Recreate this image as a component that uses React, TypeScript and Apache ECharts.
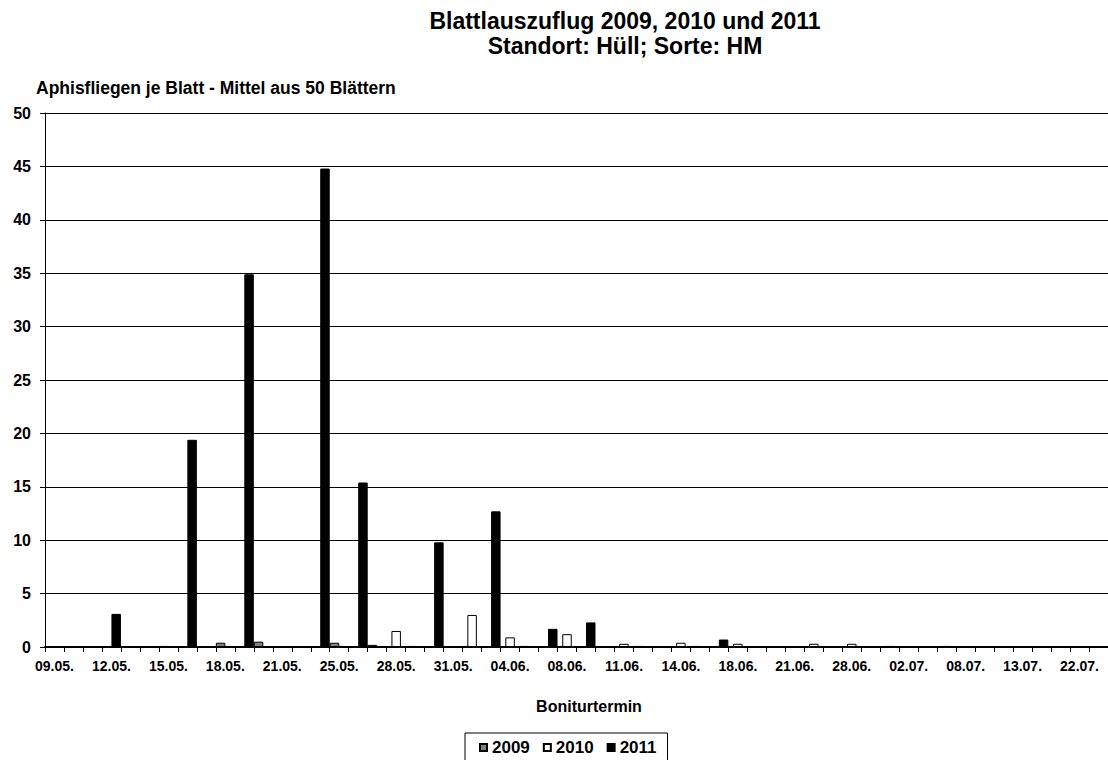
import React, { useEffect, useRef } from "react";
import * as echarts from "echarts";

const categories = [
  "09.05.", "10.05.", "11.05.", "12.05.", "13.05.", "14.05.", "15.05.", "16.05.", "17.05.", "18.05.",
  "19.05.", "20.05.", "21.05.", "23.05.", "24.05.", "25.05.", "26.05.", "27.05.", "28.05.", "29.05.",
  "30.05.", "31.05.", "01.06.", "02.06.", "04.06.", "05.06.", "06.06.", "08.06.", "09.06.", "10.06.",
  "11.06.", "12.06.", "13.06.", "14.06.", "15.06.", "16.06.", "18.06.", "19.06.", "20.06.", "21.06.",
  "23.06.", "25.06.", "28.06.", "30.06.", "01.07.", "02.07.", "04.07.", "06.07.", "08.07.", "10.07.",
  "11.07.", "13.07.", "16.07.", "19.07.", "22.07.", "25.07.",
];

const v2009 = [
  null, null, null, null, null, null, 0.1, null, null, 0.4,
  null, 0.5, null, null, null, 0.4, null, 0.2, null, 0.1,
  null, null, 0.1, null, null, 0.1, null, 0.1, null, null,
  null, 0.1, null, null, 0.1, null, null, null, null, null,
  null, null, null, null, null, null, null, null, null, null,
  null, null, null, null, null, null,
];

const v2010 = [
  null, null, null, null, null, null, null, null, null, null,
  null, null, null, null, null, 0.1, null, null, 1.5, null,
  null, null, 3.0, null, 0.9, null, null, 1.2, null, null,
  0.3, null, null, 0.4, null, null, 0.3, null, null, null,
  0.3, null, 0.3, null, 0.1, null, null, 0.1, null, null,
  null, null, null, null, null, null,
];

const v2011 = [
  null, null, null, 3.1, null, null, null, 19.4, null, null,
  34.9, null, null, null, 44.8, null, 15.4, null, null, null,
  9.8, null, null, 12.7, null, null, 1.7, null, 2.3, null,
  null, null, null, null, null, 0.7, null, null, null, null,
  null, null, null, null, null, null, null, null, null, null,
  null, null, null, null, null, null,
];

const seriesNames = ["2009", "2010", "2011"];
const titleLines = ["Blattlauszuflug 2009, 2010 und 2011", "Standort: Hüll; Sorte: HM"];
const yAxisTitle = "Aphisfliegen je Blatt - Mittel aus 50 Blättern";
const xAxisTitle = "Boniturtermin";

const FONT = "'Liberation Sans', Arial, sans-serif";

export default function App() {
  const ref = useRef<HTMLDivElement>(null);
  useEffect(() => {
    if (!ref.current) return;
    const chart = echarts.init(ref.current, null, { renderer: "svg" });
    const barStyle = (fill: string) => ({ color: fill, borderColor: "#000", borderWidth: 1 });
    chart.setOption({
      animation: false,
      backgroundColor: "#fff",
      textStyle: { fontFamily: FONT },
      graphic: [
        {
          type: "text",
          x: 625,
          y: 21,
          style: { text: titleLines[0], font: `bold 23px ${FONT}`, fill: "#000", textAlign: "center", textVerticalAlign: "middle" },
        },
        {
          type: "text",
          x: 625,
          y: 46,
          style: { text: titleLines[1], font: `bold 23px ${FONT}`, fill: "#000", textAlign: "center", textVerticalAlign: "middle" },
        },
        {
          type: "text",
          x: 36,
          y: 88,
          style: { text: yAxisTitle, font: `bold 17.5px ${FONT}`, fill: "#000", textAlign: "left", textVerticalAlign: "middle" },
        },
        {
          type: "text",
          x: 589,
          y: 706,
          style: { text: xAxisTitle, font: `bold 16px ${FONT}`, fill: "#000", textAlign: "center", textVerticalAlign: "middle" },
        },
      ],
      legend: {
        left: 465,
        top: 733,
        data: seriesNames,
        icon: "rect",
        itemWidth: 7,
        itemHeight: 7,
        itemGap: 13,
        borderColor: "#000",
        borderWidth: 1,
        padding: [6, 11, 12, 14],
        textStyle: { fontFamily: FONT, fontWeight: "bold", fontSize: 17, color: "#000" },
      },
      grid: { left: 45, top: 113, bottom: 113, right: -6, containLabel: false },
      xAxis: {
        type: "category",
        data: categories,
        boundaryGap: true,
        axisLine: { lineStyle: { color: "#000", width: 2 } },
        axisTick: { show: true, interval: 0, length: 5, inside: false, alignWithLabel: false, lineStyle: { color: "#000", width: 1 } },
        axisLabel: { interval: 2, color: "#000", fontWeight: "bold", fontSize: 14, fontFamily: FONT, margin: 12 },
        splitLine: { show: false },
      },
      yAxis: {
        type: "value",
        min: 0,
        max: 50,
        interval: 5,
        axisLine: { show: true, lineStyle: { color: "#000", width: 1 } },
        axisTick: { show: true, length: 5, inside: false, lineStyle: { color: "#000" } },
        axisLabel: { color: "#000", fontWeight: "bold", fontSize: 16, fontFamily: FONT, margin: 14 },
        splitLine: { show: true, lineStyle: { color: "#000", width: 1 } },
      },
      series: [
        { name: seriesNames[0], type: "bar", data: v2009, barWidth: "50%", barGap: "-50%", itemStyle: barStyle("#808080") },
        { name: seriesNames[1], type: "bar", data: v2010, barWidth: "50%", barGap: "-50%", itemStyle: barStyle("#ffffff") },
        { name: seriesNames[2], type: "bar", data: v2011, barWidth: "50%", barGap: "-50%", itemStyle: barStyle("#000000") },
      ],
    });
    return () => chart.dispose();
  }, []);
  return <div ref={ref} style={{ position: "fixed", left: 0, top: 0, width: 1108, height: 760 }} />;
}
